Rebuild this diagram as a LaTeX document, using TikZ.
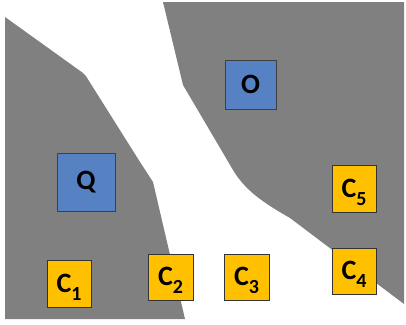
\documentclass[tikz,border=0pt]{standalone}
\usepackage{fontspec}
\setmainfont{Carlito}
\definecolor{regiongray}{HTML}{808080}
\definecolor{qblue}{HTML}{5682C4}
\definecolor{camber}{HTML}{FFC000}
\newcommand{\csubx}[1]{C\smash{\raisebox{-8pt}{\fontsize{20}{20}\selectfont #1}}}
\begin{document}
\begin{tikzpicture}[x=1pt,y=-1pt,
  bluebox/.style={draw=black!75, line width=0.9pt, fill=qblue, inner sep=0pt, font=\fontsize{28}{28}\selectfont\bfseries},
  ambox/.style={draw=black!80, line width=0.9pt, fill=camber, inner sep=0pt},
  clabel/.style={inner sep=0pt, font=\fontsize{28}{28}\selectfont\bfseries}]
\useasboundingbox (0,0) rectangle (406,324);
% left gray region
\fill[regiongray] (5,17) -- (83,73) .. controls (86,76) .. (89,81) -- (140,162) -- (153,182) -- (185,319) -- (5,319) -- cycle;
% right gray region
\fill[regiongray] (163,2) -- (404,2) -- (404,304) -- (290,218) .. controls (262,202) and (245,190) .. (233,170) -- (183,85) -- cycle;
% boxes
\node[bluebox, minimum width=51pt, minimum height=49pt] (O) at (250.5,84.5) {O};
\node[bluebox, minimum width=58pt, minimum height=58pt] (Q) at (86,182) {Q};
\node[ambox, minimum width=44pt, minimum height=47pt] (C1) at (69,283.5) {};
\node[ambox, minimum width=45pt, minimum height=46pt] (C2) at (170.5,277) {};
\node[ambox, minimum width=45pt, minimum height=46pt] (C3) at (246.5,277) {};
\node[ambox, minimum width=44pt, minimum height=46pt] (C4) at (354,271) {};
\node[ambox, minimum width=44pt, minimum height=47pt] (C5) at (354,188.5) {};
\foreach \n in {1,...,5}{
  \node[clabel] (L\n) at ([xshift=0pt,yshift=0.5pt]C\n.center) {\csubx{\n}};
}
\end{tikzpicture}
\end{document}
